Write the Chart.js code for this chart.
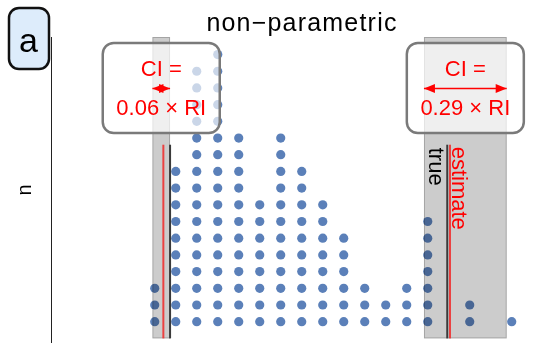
<!DOCTYPE html>
<html>
<head>
<meta charset="utf-8">
<script src="https://cdn.jsdelivr.net/npm/chart.js@4/dist/chart.umd.min.js"></script>
<style>
  html, body { margin: 0; padding: 0; background: #ffffff; }
  #wrap { width: 543px; height: 343px; }
</style>
</head>
<body>
<div id="wrap"><canvas id="c" width="543" height="343"></canvas></div>
<script>
// Histogram bins (bin centres, in bin-width units) and the number of observations in each
const binCenters = [0, 1, 2, 3, 4, 5, 6, 7, 8, 9, 10, 11, 12, 13, 14, 15, 16, 17];
const counts     = [3, 10, 16, 17, 12, 8, 12, 10, 8, 6, 3, 2, 3, 7, 0, 2, 0, 1];

// Confidence intervals of the lower and upper reference limits
const ciLow  = [-0.11, 12.82];
const ciHigh = [0.73, 16.76];

// True and estimated reference limits (lower, upper)
const trueLimits      = [0.73, 13.93];
const estimatedLimits = [0.41, 14.06];
const limitLineTop = 11.6;

const titleText  = 'non\u2212parametric';
const panelLabel = 'a';
const yTitle     = 'n';

const FONT = '"Liberation Sans", Arial, Helvetica, sans-serif';
const DOT_COLOR = '#5b80b9';

// one dot per observation, stacked in its bin
const dots = [];
binCenters.forEach((x, i) => {
  for (let k = 1; k <= counts[i]; k++) dots.push({ x: x, y: k });
});

const riWidth = estimatedLimits[1] - estimatedLimits[0];
const ciRatio = ciLow.map((lo, i) => ((ciHigh[i] - lo) / riWidth).toFixed(2));

function roundRect(ctx, x, y, w, h, r) {
  ctx.beginPath();
  ctx.moveTo(x + r, y);
  ctx.lineTo(x + w - r, y);
  ctx.arcTo(x + w, y, x + w, y + r, r);
  ctx.lineTo(x + w, y + h - r);
  ctx.arcTo(x + w, y + h, x + w - r, y + h, r);
  ctx.lineTo(x + r, y + h);
  ctx.arcTo(x, y + h, x, y + h - r, r);
  ctx.lineTo(x, y + r);
  ctx.arcTo(x, y, x + r, y, r);
  ctx.closePath();
}

function doubleArrow(ctx, x1, x2, y, head, half) {
  ctx.beginPath();
  ctx.moveTo(x1, y);
  ctx.lineTo(x2, y);
  ctx.stroke();
  ctx.beginPath();
  ctx.moveTo(x1, y);
  ctx.lineTo(x1 + head, y - half);
  ctx.lineTo(x1 + head, y + half);
  ctx.closePath();
  ctx.fill();
  ctx.beginPath();
  ctx.moveTo(x2, y);
  ctx.lineTo(x2 - head, y - half);
  ctx.lineTo(x2 - head, y + half);
  ctx.closePath();
  ctx.fill();
}

const overlay = {
  id: 'overlay',
  afterDatasetsDraw(chart) {
    const { ctx, chartArea } = chart;
    const xs = chart.scales.x, ys = chart.scales.y;
    const yBase = ys.getPixelForValue(0);
    const yLineTop = ys.getPixelForValue(limitLineTop);

    ctx.save();
    // shaded confidence-interval bands
    ciLow.forEach((lo, i) => {
      const x1 = xs.getPixelForValue(lo);
      const x2 = xs.getPixelForValue(ciHigh[i]);
      ctx.fillStyle = 'rgba(0,0,0,0.2)';
      ctx.fillRect(x1, chartArea.top, x2 - x1, yBase - chartArea.top);
      ctx.strokeStyle = 'rgba(0,0,0,0.2)';
      ctx.lineWidth = 1;
      ctx.strokeRect(x1 + 0.5, chartArea.top + 0.5, x2 - x1 - 1, yBase - chartArea.top - 1);
    });

    // true limits (dark) and estimated limits (red)
    ctx.lineWidth = 2;
    trueLimits.forEach(v => {
      const x = xs.getPixelForValue(v);
      ctx.strokeStyle = '#3a3a3a';
      ctx.beginPath(); ctx.moveTo(x, yLineTop); ctx.lineTo(x, yBase); ctx.stroke();
    });
    estimatedLimits.forEach(v => {
      const x = xs.getPixelForValue(v);
      ctx.strokeStyle = 'rgba(240,40,40,0.85)';
      ctx.beginPath(); ctx.moveTo(x, yLineTop); ctx.lineTo(x, yBase); ctx.stroke();
    });

    // vertical labels next to the upper limits
    ctx.font = '22px ' + FONT;
    ctx.textAlign = 'left';
    ctx.textBaseline = 'alphabetic';
    const xt = xs.getPixelForValue(trueLimits[1]);
    ctx.save();
    ctx.translate(xt - 18, yLineTop + 3);
    ctx.rotate(Math.PI / 2);
    ctx.fillStyle = '#000000';
    ctx.fillText('true', 0, 0);
    ctx.restore();
    const xe = xs.getPixelForValue(estimatedLimits[1]);
    ctx.save();
    ctx.translate(xe + 2, yLineTop + 2);
    ctx.rotate(Math.PI / 2);
    ctx.fillStyle = '#ff0000';
    ctx.fillText('estimate', 0, 0);
    ctx.restore();

    // call-out boxes with the CI width relative to the reference interval
    const boxW = 117, boxTop = 43, boxH = 90;
    ciLow.forEach((lo, i) => {
      const x1 = xs.getPixelForValue(lo);
      const x2 = xs.getPixelForValue(ciHigh[i]);
      const cx = (x1 + x2) / 2;
      roundRect(ctx, cx - boxW / 2, boxTop, boxW, boxH, 11);
      ctx.fillStyle = 'rgba(255,255,255,0.68)';
      ctx.fill();
      ctx.strokeStyle = '#7a7a7a';
      ctx.lineWidth = 2.5;
      ctx.stroke();

      ctx.fillStyle = '#ff0000';
      ctx.strokeStyle = '#ff0000';
      ctx.font = '22px ' + FONT;
      ctx.textAlign = 'center';
      ctx.textBaseline = 'alphabetic';
      ctx.fillText('CI =', cx, 76);
      ctx.fillText(ciRatio[i] + ' \u00d7 RI', cx, 115);
      ctx.lineWidth = 1.5;
      doubleArrow(ctx, x1, x2, 88.5, 11, 4.5);
    });
    ctx.restore();
  },
  afterDraw(chart) {
    const { ctx } = chart;
    ctx.save();
    // chart title
    ctx.font = '25px ' + FONT;
    ctx.fillStyle = '#000000';
    ctx.textAlign = 'center';
    ctx.textBaseline = 'alphabetic';
    ctx.letterSpacing = '1.2px';
    ctx.fillText(titleText, 302, 31);
    ctx.letterSpacing = '0px';

    // panel label
    roundRect(ctx, 9, 8, 40, 61, 10);
    ctx.fillStyle = '#ddecfb';
    ctx.fill();
    ctx.strokeStyle = '#111111';
    ctx.lineWidth = 2.5;
    ctx.stroke();
    ctx.fillStyle = '#000000';
    ctx.font = '34px ' + FONT;
    ctx.fillText(panelLabel, 28.5, 51.5);
    ctx.restore();
  }
};

new Chart(document.getElementById('c'), {
  type: 'scatter',
  data: {
    datasets: [{
      data: dots,
      backgroundColor: DOT_COLOR,
      borderWidth: 0,
      pointRadius: 4.6,
      pointHoverRadius: 4.6
    }]
  },
  options: {
    responsive: false,
    animation: false,
    devicePixelRatio: 1,
    layout: { autoPadding: false, padding: { left: 0, right: 13, top: 37, bottom: 0 } },
    plugins: {
      legend: { display: false },
      tooltip: { enabled: false },
      title: { display: false }
    },
    scales: {
      x: { type: 'linear', display: false, min: -4.94, max: 17.87 },
      y: {
        type: 'linear',
        position: 'left',
        min: -0.275,
        max: 18.05,
        grid: { display: false, drawTicks: false },
        ticks: { display: false },
        border: { display: true, color: '#222222', width: 1 },
        title: {
          display: true,
          text: yTitle,
          color: '#000000',
          font: { family: FONT, size: 20 },
          padding: { top: 13, bottom: 14 }
        }
      }
    }
  },
  plugins: [overlay]
});
</script>
</body>
</html>
